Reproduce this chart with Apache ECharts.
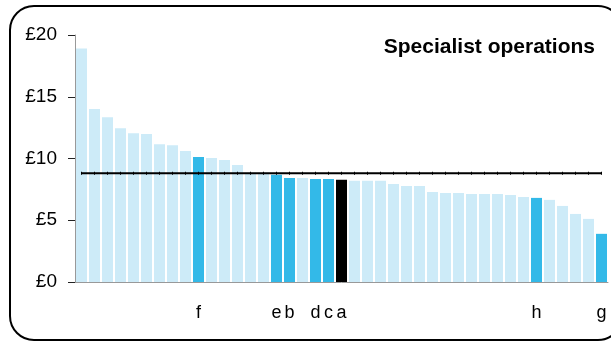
<!DOCTYPE html>
<html>
<head>
<meta charset="utf-8">
<script src="https://cdn.jsdelivr.net/npm/echarts@6/dist/echarts.min.js"></script>
<style>
  html, body { margin: 0; padding: 0; background: #fff; }
  #main { width: 611px; height: 342px; }
</style>
</head>
<body>
<div id="main"></div>
<script>
// bar values, in £, ranked high to low
var costs = [18.9, 14.0, 13.35, 12.45, 12.05, 11.98, 11.15, 11.08, 10.6, 10.12,
             10.04, 9.88, 9.48, 8.85, 8.85, 8.68, 8.42, 8.42, 8.35, 8.35,
             8.27, 8.19, 8.19, 8.19, 7.94, 7.78, 7.78, 7.29, 7.21, 7.21,
             7.13, 7.13, 7.13, 7.05, 6.89, 6.81, 6.65, 6.16, 5.51, 5.11, 3.9];
// labels under the highlighted bars
var tickLabels = ['', '', '', '', '', '', '', '', '', 'f',
                  '', '', '', '', '', 'e', 'b', '', 'd', 'c',
                  'a', '', '', '', '', '', '', '', '', '',
                  '', '', '', '', '', 'h', '', '', '', '', 'g'];
var average = 8.8;
var categories = costs.map(function (v, i) { return 'n' + (i + 1); });
var averageLine = costs.map(function () { return average; });

var light = '#cdebf8', dark = '#33b9e8';

var myChart = echarts.init(document.getElementById('main'));
var option = {
    backgroundColor: '#fff',
    animation: false,
    graphic: [{
        type: 'rect',
        shape: { x: 10, y: 6, width: 612, height: 334, r: 24 },
        style: { fill: 'none', stroke: '#000', lineWidth: 2 },
        z: 100
    }],
    title: {
        text: 'Specialist operations',
        right: 11,
        top: 32,
        textStyle: { fontFamily: 'Liberation Sans', fontSize: 21, fontWeight: 'bold', color: '#000' }
    },
    grid: { left: 75, right: 3, top: 35, bottom: 60 },
    xAxis: {
        type: 'category',
        data: categories,
        axisLine: { lineStyle: { color: '#999', width: 1 } },
        axisTick: { show: false },
        axisLabel: {
            interval: 0,
            margin: 22,
            fontFamily: 'Liberation Sans',
            fontSize: 18,
            color: '#000',
            formatter: function (v, i) { return tickLabels[i]; }
        }
    },
    yAxis: {
        type: 'value',
        min: 0, max: 20, interval: 5,
        axisLine: { show: true, lineStyle: { color: '#999', width: 1 } },
        axisTick: { show: true, length: 7, lineStyle: { color: '#222' } },
        splitLine: { show: false },
        axisLabel: {
            margin: 18,
            fontFamily: 'Liberation Sans',
            fontSize: 19,
            color: '#000',
            formatter: function (v) { return '£' + v; }
        }
    },
    series: [{
        type: 'bar',
        data: costs.map(function (v, i) {
            var c = light;
            if (tickLabels[i] === 'a') c = '#000';
            else if (tickLabels[i] !== '') c = dark;
            return { value: v, itemStyle: { color: c } };
        }),
        barWidth: 11
    }, {
        type: 'line',
        data: averageLine,
        symbol: 'rect',
        symbolSize: [1, 3],
        itemStyle: { color: '#000' },
        lineStyle: { color: '#000', width: 2 },
        z: 5
    }]
};
myChart.setOption(option);
</script>
</body>
</html>
